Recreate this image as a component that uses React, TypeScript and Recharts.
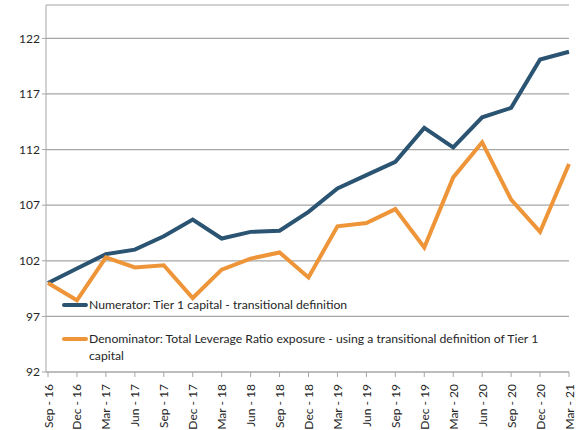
import React from "react";
import { LineChart, Line, XAxis, YAxis, CartesianGrid, Legend } from "recharts";

const quarters = [
  "Sep - 16", "Dec - 16", "Mar - 17", "Jun - 17", "Sep - 17", "Dec - 17", "Mar - 18",
  "Jun - 18", "Sep - 18", "Dec - 18", "Mar - 19", "Jun - 19", "Sep - 19", "Dec - 19",
  "Mar - 20", "Jun - 20", "Sep - 20", "Dec - 20", "Mar - 21",
];
const numerator = [
  100, 101.3, 102.6, 103.0, 104.2, 105.7, 104.0, 104.6, 104.7, 106.4,
  108.5, 109.7, 110.9, 113.95, 112.2, 114.9, 115.75, 120.1, 120.8,
];
const denominator = [
  100, 98.45, 102.3, 101.4, 101.6, 98.65, 101.2, 102.2, 102.75, 100.5,
  105.1, 105.4, 106.65, 103.2, 109.5, 112.65, 107.5, 104.6, 110.7,
];
const yTicks = [92, 97, 102, 107, 112, 117, 122];
const seriesOrder = ["num", "den"];

const NUM_NAME = "Numerator: Tier 1 capital - transitional definition";
const DEN_NAME =
  "Denominator: Total Leverage Ratio exposure - using a transitional definition of Tier 1 capital";

const data = quarters.map((q, i) => ({ q, num: numerator[i], den: denominator[i] }));

const FONT = "Lato, 'Liberation Sans', sans-serif";
const AXIS = "#A6A6A6";

function XTick(props: any) {
  const { x, y, payload } = props;
  return (
    <text
      x={x}
      y={y + 5}
      transform={`rotate(-90 ${x} ${y + 5})`}
      textAnchor="end"
      dominantBaseline="central"
      fontSize={12}
      fontFamily={FONT}
      fill="#262626"
    >
      {payload.value}
    </text>
  );
}

function renderLegend(props: any) {
  const items = [...(props.payload || [])].sort(
    (a: any, b: any) => seriesOrder.indexOf(a.dataKey) - seriesOrder.indexOf(b.dataKey)
  );
  return (
    <div style={{ fontFamily: FONT, fontSize: 12.2, color: "#262626", textAlign: "left" }}>
      {items.map((p: any, i: number) => (
        <div key={i} style={{ display: "flex", alignItems: "flex-start", marginBottom: 17, lineHeight: "17px" }}>
          <span
            style={{
              display: "inline-block",
              width: 26,
              height: 4,
              borderRadius: 2,
              background: p.color,
              marginTop: 7,
              flex: "0 0 auto",
            }}
          />
          <span style={{ marginLeft: 1 }}>{p.value}</span>
        </div>
      ))}
    </div>
  );
}

export default function App() {
  return (
    <div style={{ position: "absolute", left: 0, top: 0, width: 582, height: 430, background: "#fff" }}>
      <LineChart width={582} height={430} data={data} margin={{ top: 5, right: 13, bottom: 0, left: 0 }}>
        <CartesianGrid vertical={false} stroke={AXIS} strokeWidth={1.2} />
        <XAxis
          dataKey="q"
          interval={0}
          height={58}
          tick={<XTick />}
          stroke={AXIS}
          tickSize={5}
          padding={{ left: 2, right: 0 }}
        />
        <YAxis
          domain={[92, 125]}
          ticks={yTicks}
          width={46}
          stroke={AXIS}
          tickSize={4}
          tick={{ fontSize: 12, fontFamily: FONT, fill: "#262626" }}
          allowDataOverflow
        />
        <Legend
          layout="vertical"
          verticalAlign="middle"
          align="center"
          content={renderLegend}
          wrapperStyle={{ position: "absolute", left: 62, top: 296, width: 480 }}
        />
        <Line
          type="linear"
          dataKey="num"
          name={NUM_NAME}
          stroke="#2B5372"
          strokeWidth={4}
          dot={false}
          isAnimationActive={false}
        />
        <Line
          type="linear"
          dataKey="den"
          name={DEN_NAME}
          stroke="#EE9539"
          strokeWidth={4}
          dot={false}
          isAnimationActive={false}
        />
      </LineChart>
    </div>
  );
}
